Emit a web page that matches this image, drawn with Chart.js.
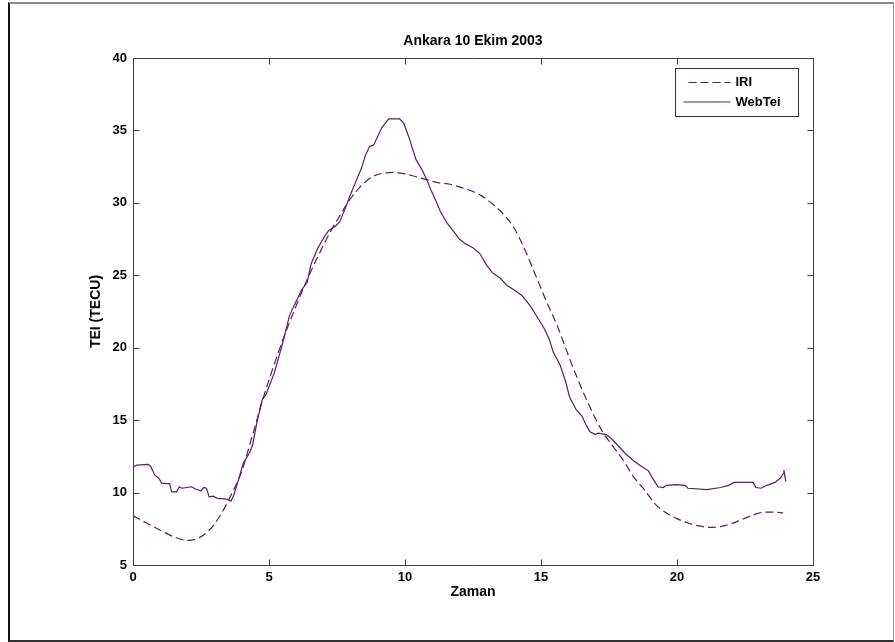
<!DOCTYPE html>
<html>
<head>
<meta charset="utf-8">
<script src="https://cdn.jsdelivr.net/npm/chart.js@4.4.1/dist/chart.umd.min.js"></script>
<style>
html,body{margin:0;padding:0;background:#fff;}
#wrap{position:relative;width:895px;height:642px;overflow:hidden;background:#fff;}
#frame{position:absolute;left:8px;top:2px;width:886px;height:640px;box-sizing:border-box;border-top:2px solid #8a8a8a;border-left:2px solid #111;border-bottom:2px solid #333;border-right:1px solid #999;}
#c{position:absolute;left:0;top:0;}
</style>
</head>
<body>
<div id="wrap">
<div id="frame"></div>
<canvas id="c" width="895" height="642"></canvas>
</div>
<script>
// ---- data ----
const chartTitle = 'Ankara 10 Ekim 2003';
const xAxisTitle = 'Zaman';
const yAxisTitle = 'TEI (TECU)';
const seriesNames = ['IRI', 'WebTei'];
const xTicks = [0, 5, 10, 15, 20, 25];
const yTicks = [5, 10, 15, 20, 25, 30, 35, 40];

const iriHours = [0,0.5,1.0,1.5,2.0,2.4,2.8,3.2,3.6,4.0,4.4,4.8,5.2,5.6,6.0,6.4,6.8,7.2,7.6,8.0,8.4,8.8,9.2,9.6,10.0,10.4,10.8,11.2,11.6,12.0,12.4,12.8,13.2,13.6,14.0,14.4,14.8,15.2,15.6,16.0,16.4,16.8,17.2,17.6,18.0,18.4,18.8,19.2,19.6,20.0,20.4,20.8,21.2,21.6,22.0,22.4,22.8,23.2,23.6,23.9];
const iriValues = [8.4,7.9,7.4,6.95,6.7,6.85,7.4,8.4,9.8,11.5,14.0,16.6,18.9,21.0,22.9,24.7,26.3,27.8,29.1,30.3,31.2,31.8,32.05,32.1,32.0,31.8,31.6,31.4,31.3,31.1,30.85,30.5,29.95,29.25,28.3,26.8,25.0,23.2,21.5,19.5,17.6,15.9,14.4,13.3,12.3,11.1,10.2,9.2,8.6,8.2,7.9,7.7,7.6,7.65,7.85,8.15,8.45,8.65,8.65,8.6];

const webHours = [0.0,0.15,0.55,0.65,0.8,0.95,1.05,1.35,1.42,1.6,1.7,1.8,2.15,2.3,2.5,2.6,2.7,2.8,2.95,3.1,3.45,3.6,3.7,3.85,4.05,4.3,4.4,4.55,4.75,4.9,5.2,5.5,5.75,6.0,6.2,6.4,6.55,6.8,7.05,7.2,7.45,7.6,7.8,8.0,8.2,8.4,8.55,8.7,8.85,9.0,9.15,9.4,9.8,9.95,10.15,10.4,10.65,10.8,10.95,11.1,11.3,11.55,11.8,12.0,12.2,12.5,12.75,13.0,13.2,13.5,13.75,14.0,14.3,14.6,14.9,15.1,15.3,15.45,15.7,15.9,16.05,16.3,16.5,16.65,16.8,17.0,17.1,17.4,17.6,17.8,18.1,18.4,18.7,18.95,19.1,19.3,19.5,19.6,20.0,20.3,20.4,21.1,21.6,21.9,22.1,22.8,22.9,23.1,23.3,23.6,23.8,23.9,23.93,23.97,24.0];
const webValues = [11.75,11.9,11.95,11.8,11.2,11.0,10.65,10.6,10.05,10.05,10.4,10.3,10.4,10.25,10.1,10.35,10.3,9.7,9.75,9.6,9.55,9.4,9.8,10.7,12.0,12.8,13.3,14.8,16.4,16.8,18.3,20.3,22.2,23.2,24.0,24.5,25.8,26.9,27.7,28.1,28.4,28.7,29.6,30.6,31.5,32.4,33.3,33.9,34.0,34.6,35.2,35.8,35.8,35.5,34.5,33.0,32.2,31.6,30.9,30.3,29.4,28.6,28.0,27.5,27.2,26.9,26.5,25.7,25.2,24.8,24.3,24.0,23.6,22.9,22.0,21.4,20.6,19.7,18.8,17.7,16.6,15.7,15.3,14.7,14.2,14.0,14.1,14.0,13.7,13.3,12.7,12.2,11.8,11.5,11.0,10.4,10.35,10.5,10.55,10.5,10.3,10.2,10.35,10.5,10.7,10.7,10.35,10.3,10.5,10.7,11.0,11.3,11.55,11.1,10.75];

// ---- chart ----
const lineColor = '#5c1e5c';
const FONT = '"Liberation Sans", Arial, Helvetica, sans-serif';
Chart.defaults.font.family = FONT;
Chart.defaults.color = '#000';

const toPts = (xs, ys) => xs.map((x, i) => ({x: x, y: ys[i]}));

const boxPlugin = {
  id: 'boxAndLegend',
  afterDatasetsDraw(chart) {
    const {ctx, chartArea: a, scales} = chart;
    const xs = scales.x, ys = scales.y;
    const L = Math.round(a.left) + 0.5, R = Math.round(a.right) + 0.5;
    const T = Math.round(a.top) + 0.5, B = Math.round(a.bottom) + 0.5;
    ctx.save();
    ctx.strokeStyle = '#404040';
    ctx.lineWidth = 1;
    ctx.beginPath();
    ctx.rect(L, T, R - L, B - T);
    const tl = 6;
    xs.ticks.forEach(t => {
      const p = Math.round(xs.getPixelForValue(t.value)) + 0.5;
      ctx.moveTo(p, B); ctx.lineTo(p, B - tl);
      ctx.moveTo(p, T); ctx.lineTo(p, T + tl);
    });
    ys.ticks.forEach(t => {
      const p = Math.round(ys.getPixelForValue(t.value)) + 0.5;
      ctx.moveTo(L, p); ctx.lineTo(L + tl, p);
      ctx.moveTo(R, p); ctx.lineTo(R - tl, p);
    });
    ctx.stroke();

    // legend box (top-right inside plot)
    const bx = R - 138, by = T + 10, bw = 123, bh = 48;
    ctx.fillStyle = '#fff';
    ctx.fillRect(bx, by, bw, bh);
    ctx.strokeStyle = '#333';
    ctx.strokeRect(bx, by, bw, bh);
    ctx.font = 'bold 13px ' + FONT;
    ctx.textBaseline = 'middle';
    ctx.textAlign = 'left';
    chart.data.datasets.forEach((ds, i) => {
      const yy = by + 14 + i * 19.5;
      ctx.beginPath();
      ctx.strokeStyle = ds.borderColor;
      ctx.lineWidth = ds.borderWidth;
      ctx.setLineDash(ds.borderDash || []);
      const x0 = i === 0 ? bx + 13 : bx + 8;
      ctx.moveTo(x0, yy); ctx.lineTo(bx + 55, yy);
      ctx.stroke();
      ctx.setLineDash([]);
      ctx.fillStyle = '#000';
      ctx.fillText(ds.label, bx + 60, yy);
    });
    ctx.restore();
  }
};

new Chart(document.getElementById('c'), {
  type: 'line',
  data: {
    datasets: [
      {
        label: seriesNames[0],
        data: toPts(iriHours, iriValues),
        borderColor: lineColor,
        borderWidth: 1.2,
        borderDash: [8, 4],
        pointRadius: 0,
        fill: false,
        tension: 0.4,
        cubicInterpolationMode: 'monotone'
      },
      {
        label: seriesNames[1],
        data: toPts(webHours, webValues),
        borderColor: lineColor,
        borderWidth: 1.2,
        pointRadius: 0,
        fill: false,
        tension: 0
      }
    ]
  },
  options: {
    responsive: false,
    animation: false,
    devicePixelRatio: 1,
    layout: { padding: { left: 0, right: 82, top: 0, bottom: 0 } },
    plugins: {
      legend: { display: false },
      tooltip: { enabled: false },
      title: {
        display: true,
        text: chartTitle,
        fullSize: false,
        color: '#000',
        font: { size: 14, weight: 'bold', family: FONT },
        padding: { top: 32.6, bottom: 8.6 }
      }
    },
    scales: {
      x: {
        type: 'linear',
        min: 0, max: 25,
        afterBuildTicks: s => { s.ticks = xTicks.map(v => ({value: v})); },
        afterFit: s => { s.height = 77; },
        grid: { display: false, drawTicks: false },
        border: { display: false },
        ticks: { padding: 5, font: { size: 13, weight: 'bold' }, color: '#000', maxRotation: 0 },
        title: { display: true, text: xAxisTitle, font: { size: 14, weight: 'bold' }, color: '#000', padding: { top: 0, bottom: 41.6 } }
      },
      y: {
        type: 'linear',
        min: 5, max: 40,
        afterBuildTicks: s => { s.ticks = yTicks.map(v => ({value: v})); },
        afterFit: s => { s.width = 133; },
        grid: { display: false, drawTicks: false },
        border: { display: false },
        ticks: { padding: 6, font: { size: 13, weight: 'bold' }, color: '#000' },
        title: { display: true, text: yAxisTitle, font: { size: 14, weight: 'bold' }, color: '#000', padding: { top: 87.6, bottom: 0 } }
      }
    }
  },
  plugins: [boxPlugin]
});
</script>
</body>
</html>
